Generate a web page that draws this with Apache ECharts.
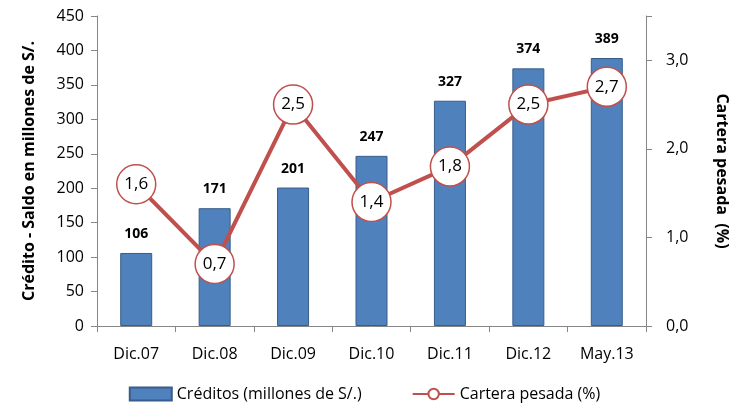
<!DOCTYPE html>
<html><head><meta charset="utf-8">
<script src="https://cdn.jsdelivr.net/npm/echarts@6/dist/echarts.min.js"></script>
<style>html,body{margin:0;padding:0;background:#fff}#c{width:729px;height:409px}</style>
</head><body><div id="c"></div>
<script>
const categories = ['Dic.07','Dic.08','Dic.09','Dic.10','Dic.11','Dic.12','May.13'];
const creditos = [106, 171, 201, 247, 327, 374, 389];
const cartera = [1.6, 0.7, 2.5, 1.4, 1.8, 2.5, 2.7];
const leftTicks = [0,50,100,150,200,250,300,350,400,450];
const rightTicks = [0,1,2,3];

const F = 'Open Sans, Noto Sans, sans-serif';
const chart = echarts.init(document.getElementById('c'), null, {renderer:'canvas'});
chart.setOption({
  animation:false,
  textStyle:{fontFamily:F},
  grid:{left:97, right:83, top:16, bottom:83, containLabel:false, outerBoundsMode:'none'},
  legend:{
    bottom:2, left:'center', itemGap:50, itemWidth:42, itemHeight:13,
    textStyle:{fontFamily:F, fontSize:16, color:'#000'},
    data:[{name:'Créditos (millones de S/.)', icon:'rect'},{name:'Cartera pesada (%)'}]
  },
  xAxis:{
    type:'category', data:categories,
    axisLine:{lineStyle:{color:'#868686'}},
    axisTick:{show:true, length:6, lineStyle:{color:'#868686'}},
    axisLabel:{color:'#000', fontSize:16, margin:20, fontFamily:F}
  },
  yAxis:[{
    type:'value', min:leftTicks[0], max:leftTicks[leftTicks.length-1], interval:50,
    name:'Crédito - Saldo en millones de S/.', nameLocation:'middle', nameGap:60, nameRotate:90,
    nameTextStyle:{fontWeight:'bold', fontSize:16, color:'#000', fontFamily:F},
    axisLine:{show:true, lineStyle:{color:'#868686'}},
    axisTick:{show:true, length:6, lineStyle:{color:'#868686'}},
    splitLine:{show:false},
    axisLabel:{color:'#000', fontSize:16, margin:13, fontFamily:F}
  },{
    type:'value', min:0, max:3.5, interval:1,
    name:'Cartera pesada  (%)', nameLocation:'middle', nameGap:68, nameRotate:-90,
    nameTextStyle:{fontWeight:'bold', fontSize:16, color:'#000', fontFamily:F},
    axisLine:{show:true, lineStyle:{color:'#868686'}},
    axisTick:{show:true, length:6, lineStyle:{color:'#868686'}},
    splitLine:{show:false},
    axisLabel:{color:'#000', fontSize:16, margin:20, fontFamily:F,
      formatter:v => rightTicks.includes(v) ? v.toFixed(1).replace('.',',') : ''}
  }],
  series:[{
    name:'Créditos (millones de S/.)', type:'bar', data:creditos, barWidth:32,
    itemStyle:{color:'#4F81BD', borderColor:'#385D8A', borderWidth:1},
    label:{show:true, position:'top', distance:12, fontWeight:'bold', fontSize:14, color:'#000', fontFamily:F}
  },{
    name:'Cartera pesada (%)', type:'line', yAxisIndex:1, data:cartera,
    symbol:'circle', symbolSize:39,
    lineStyle:{color:'#C0504D', width:4},
    itemStyle:{color:'#fff', borderColor:'#C0504D', borderWidth:1.5},
    label:{show:true, position:'inside', fontSize:17, color:'#000', fontFamily:F,
      formatter:p => p.value.toFixed(1).replace('.',',')},
    z:5
  }]
});
</script></body></html>
